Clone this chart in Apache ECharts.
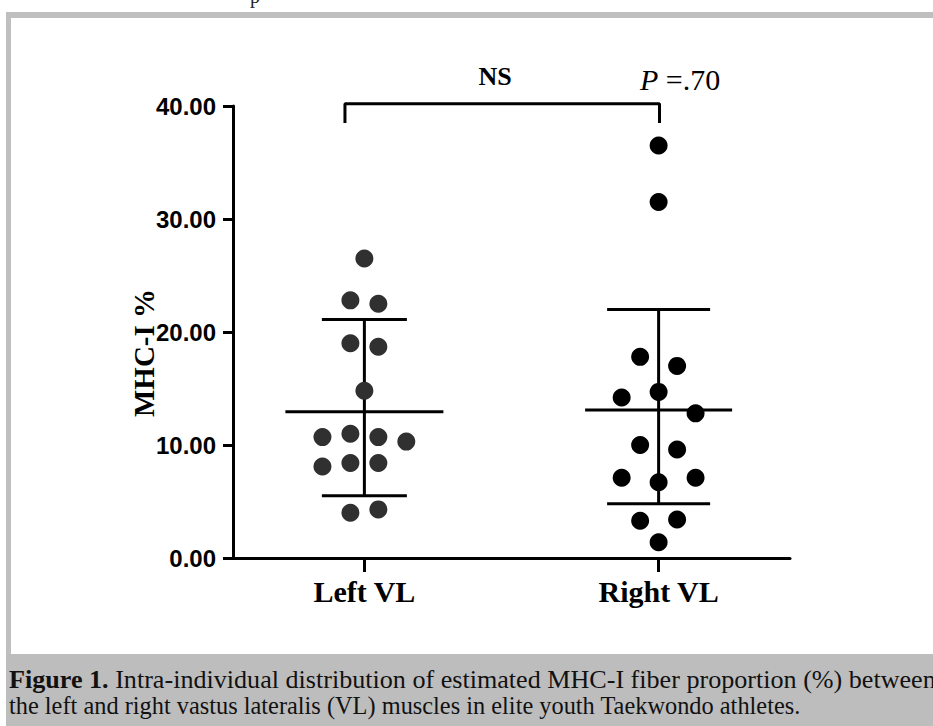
<!DOCTYPE html>
<html>
<head>
<meta charset="utf-8">
<script src="https://cdn.jsdelivr.net/npm/echarts@6/dist/echarts.min.js"></script>
<style>
html,body{margin:0;padding:0;background:#fff;}
#chart{width:933px;height:726px;}
</style>
</head>
<body>
<div id="chart"></div>
<script>
// ---- data ----
const categories = ['Left VL', 'Right VL'];
const groupPositions = [1, 2];
const leftValues  = [26.5, 22.8, 22.5, 19.0, 18.7, 14.8, 10.7, 11.0, 10.7, 10.3, 8.1, 8.4, 8.4, 4.0, 4.3];
const leftJitter  = [0, -0.5, 0.5, -0.5, 0.5, 0, -1.5, -0.5, 0.5, 1.5, -1.5, -0.5, 0.5, -0.5, 0.5];
const rightValues = [36.5, 31.5, 17.8, 17.0, 14.2, 14.7, 12.8, 10.0, 9.6, 7.1, 6.7, 7.1, 3.3, 3.4, 1.4];
const rightJitter = [0, 0, -1, 1, -2, 0, 2, -1, 1, -2, 0, 2, -1, 1, 0];
const groupMeans  = [12.95, 13.1];
const groupSdLow  = [5.5, 4.8];
const groupSdHigh = [21.1, 22.0];
const yTickValues = [0, 10, 20, 30, 40];
const bracketX = [0.934, 2.003];
const bracketY = [38.5, 40.2];
const annotationNS = 'NS';
const annotationP = '.70';
const yAxisTitle = 'MHC-I %';
const captionBold = 'Figure 1.';
const captionLine1 = ' Intra-individual distribution of estimated MHC-I fiber proportion (%) between';
const captionLine2 = 'the left and right vastus lateralis (VL) muscles in elite youth Taekwondo athletes.';

// ---- styling constants ----
const leftStep = 0.095, rightStep = 0.0628;
const meanHalf = [79, 73.5], sdHalf = [42.5, 51.5];

const chart = echarts.init(document.getElementById('chart'), null, {renderer: 'svg'});

const lineStyle = {stroke: '#000', lineWidth: 3};

const option = {
  animation: false,
  backgroundColor: '#ffffff',
  grid: {left: 233, right: 143, top: 106, bottom: 168},
  xAxis: {
    type: 'value',
    min: 0.5535, max: 2.4465,
    splitLine: {show: false},
    axisLine: {show: true, onZero: false, lineStyle: {color: '#000', width: 3}},
    axisTick: {show: true, customValues: groupPositions, length: 14, lineStyle: {color: '#000', width: 3}},
    axisLabel: {
      customValues: groupPositions,
      formatter: v => categories[Math.round(v) - 1],
      margin: 18,
      fontFamily: 'Liberation Serif', fontWeight: 'bold', fontSize: 30, color: '#000'
    }
  },
  yAxis: {
    type: 'value',
    min: yTickValues[0], max: yTickValues[yTickValues.length - 1], interval: 10,
    splitLine: {show: false},
    axisLine: {show: true, lineStyle: {color: '#000', width: 3}},
    axisTick: {show: true, length: 10, lineStyle: {color: '#000', width: 3}},
    axisLabel: {
      formatter: v => v.toFixed(2),
      margin: 17,
      fontFamily: 'Liberation Sans', fontWeight: 'bold', fontSize: 24, color: '#000'
    },
    name: yAxisTitle,
    nameLocation: 'middle',
    nameGap: 75,
    nameMoveOverlap: false,
    nameRotate: 90,
    nameTextStyle: {
      fontFamily: 'Liberation Serif', fontWeight: 'bold', fontSize: 29, color: '#000',
      padding: [0, 42, 0, 0]
    }
  },
  series: [
    {
      type: 'custom',
      z: 1,
      data: groupPositions.map((x, i) => [x, groupMeans[i], groupSdLow[i], groupSdHigh[i]]),
      encode: {x: 0, y: [1, 2, 3]},
      renderItem: function (params, api) {
        const i = params.dataIndex;
        const x = api.value(0);
        const pm = api.coord([x, api.value(1)]);
        const pl = api.coord([x, api.value(2)]);
        const ph = api.coord([x, api.value(3)]);
        const mw = meanHalf[i], sw = sdHalf[i];
        return {
          type: 'group',
          children: [
            {type: 'line', shape: {x1: pm[0], y1: ph[1], x2: pm[0], y2: pl[1]}, style: lineStyle},
            {type: 'line', shape: {x1: pm[0] - mw, y1: pm[1], x2: pm[0] + mw, y2: pm[1]}, style: lineStyle},
            {type: 'line', shape: {x1: pm[0] - sw, y1: ph[1], x2: pm[0] + sw, y2: ph[1]}, style: lineStyle},
            {type: 'line', shape: {x1: pm[0] - sw, y1: pl[1], x2: pm[0] + sw, y2: pl[1]}, style: lineStyle}
          ]
        };
      }
    },
    {
      type: 'scatter',
      z: 3,
      symbol: 'circle',
      symbolSize: 18,
      itemStyle: {color: '#303030', opacity: 1},
      data: leftValues.map((v, i) => [groupPositions[0] + leftJitter[i] * leftStep, v])
    },
    {
      type: 'scatter',
      z: 3,
      symbol: 'circle',
      symbolSize: 18,
      itemStyle: {color: '#000000', opacity: 1},
      data: rightValues.map((v, i) => [groupPositions[1] + rightJitter[i] * rightStep, v])
    },
    {
      type: 'line',
      z: 2,
      clip: false,
      symbol: 'none',
      lineStyle: {color: '#000', width: 3},
      data: [
        [bracketX[0], bracketY[0]],
        [bracketX[0], bracketY[1]],
        [bracketX[1], bracketY[1]],
        [bracketX[1], bracketY[0]]
      ]
    }
  ],
  graphic: [
    {type: 'rect', shape: {x: 6, y: 12, width: 927, height: 6}, style: {fill: '#bfbfbf'}, silent: true},
    {type: 'rect', shape: {x: 6, y: 12, width: 5, height: 642}, style: {fill: '#bfbfbf'}, silent: true},
    {type: 'rect', shape: {x: 6, y: 654, width: 927, height: 72}, style: {fill: '#bdbdbd'}, silent: true},
    {type: 'text', x: 250, y: -14, style: {text: 'p', font: '20px "Liberation Serif"', fill: '#222'}, silent: true},
    {type: 'text', x: 495, y: 76, style: {text: annotationNS, font: 'bold 26px "Liberation Serif"', fill: '#000', textAlign: 'center', textVerticalAlign: 'middle'}},
    {type: 'text', x: 640, y: 79, style: {
      text: '{i|P }{n|=' + annotationP + '}',
      textVerticalAlign: 'middle',
      rich: {
        i: {font: 'italic 30px "Liberation Serif"', fill: '#000'},
        n: {font: '30px "Liberation Serif"', fill: '#000'}
      }
    }},
    {type: 'text', x: 9, y: 680, scaleX: 1.045, style: {
      text: '{b|' + captionBold + '}{r|' + captionLine1 + '}',
      textVerticalAlign: 'middle',
      rich: {
        b: {font: 'bold 25px "Liberation Serif"', fill: '#111'},
        r: {font: '25px "Liberation Serif"', fill: '#111'}
      }
    }},
    {type: 'text', x: 9, y: 705, scaleX: 0.975, style: {
      text: captionLine2, font: '25px "Liberation Serif"', fill: '#111', textVerticalAlign: 'middle'
    }}
  ]
};
chart.setOption(option);
</script>
</body>
</html>
